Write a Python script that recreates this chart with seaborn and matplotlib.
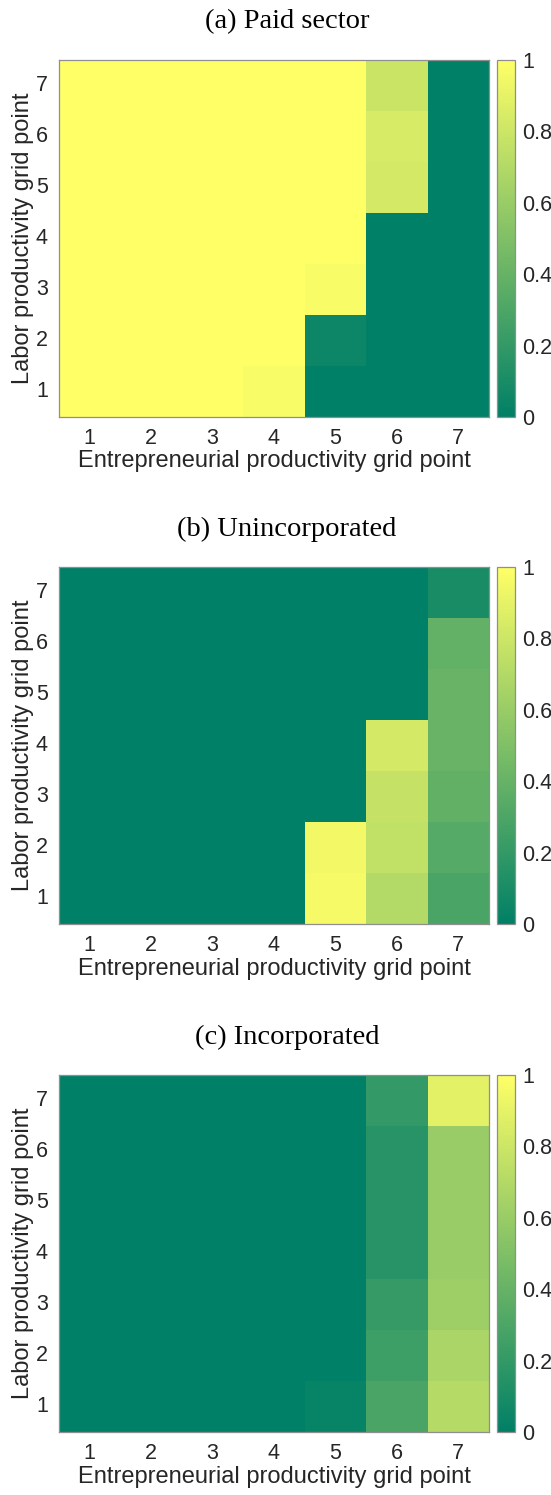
import numpy as np
import matplotlib
matplotlib.use("Agg")
import matplotlib.pyplot as plt
import seaborn as sns

# Grid points on both axes
ent_grid = [1, 2, 3, 4, 5, 6, 7]
lab_grid = [1, 2, 3, 4, 5, 6, 7]

# Sector shares; each list is one labor-productivity row (row 1 first),
# entries run over entrepreneurial productivity grid points 1..7.
paid_sector = [
    [1.00, 1.00, 1.00, 0.97, 0.00, 0.00, 0.00],
    [1.00, 1.00, 1.00, 1.00, 0.05, 0.00, 0.00],
    [1.00, 1.00, 1.00, 1.00, 0.97, 0.00, 0.00],
    [1.00, 1.00, 1.00, 1.00, 1.00, 0.00, 0.00],
    [1.00, 1.00, 1.00, 1.00, 1.00, 0.83, 0.00],
    [1.00, 1.00, 1.00, 1.00, 1.00, 0.84, 0.00],
    [1.00, 1.00, 1.00, 1.00, 1.00, 0.79, 0.00],
]
unincorporated = [
    [0.00, 0.00, 0.00, 0.00, 0.96, 0.70, 0.29],
    [0.00, 0.00, 0.00, 0.00, 0.95, 0.75, 0.33],
    [0.00, 0.00, 0.00, 0.00, 0.00, 0.77, 0.38],
    [0.00, 0.00, 0.00, 0.00, 0.00, 0.83, 0.41],
    [0.00, 0.00, 0.00, 0.00, 0.00, 0.00, 0.41],
    [0.00, 0.00, 0.00, 0.00, 0.00, 0.00, 0.39],
    [0.00, 0.00, 0.00, 0.00, 0.00, 0.00, 0.10],
]
incorporated = [
    [0.00, 0.00, 0.00, 0.00, 0.03, 0.29, 0.71],
    [0.00, 0.00, 0.00, 0.00, 0.00, 0.24, 0.67],
    [0.00, 0.00, 0.00, 0.00, 0.00, 0.21, 0.62],
    [0.00, 0.00, 0.00, 0.00, 0.00, 0.16, 0.60],
    [0.00, 0.00, 0.00, 0.00, 0.00, 0.16, 0.60],
    [0.00, 0.00, 0.00, 0.00, 0.00, 0.16, 0.60],
    [0.00, 0.00, 0.00, 0.00, 0.00, 0.20, 0.89],
]

titles = ["(a) Paid sector", "(b) Unincorporated", "(c) Incorporated"]
panels = [paid_sector, unincorporated, incorporated]
cbar_ticks = [0, 0.2, 0.4, 0.6, 0.8, 1]
cbar_labels = ["0", "0.2", "0.4", "0.6", "0.8", "1"]

sns.set_theme(style="white")
plt.rcParams["font.family"] = ["Liberation Sans", "DejaVu Sans"]

W, H = 551, 1495
fig = plt.figure(figsize=(W / 100, H / 100), dpi=100)

text_col = "#262626"
edge_col = "#8f8f8f"
tick_fs = 15.5
label_fs = 17

ax_left, ax_right = 59, 489
cb_left, cb_right = 497, 515
ax_tops = [60, 567, 1075]
ax_h = 357

for title, data, top in zip(titles, panels, ax_tops):
    ax = fig.add_axes([ax_left / W, (H - top - ax_h) / H,
                       (ax_right - ax_left) / W, ax_h / H])
    cax = fig.add_axes([cb_left / W, (H - top - ax_h) / H,
                        (cb_right - cb_left) / W, ax_h / H])
    sns.heatmap(np.array(data), ax=ax, cbar_ax=cax, cmap="summer",
                vmin=0, vmax=1, xticklabels=ent_grid, yticklabels=lab_grid,
                linewidths=0, square=False)
    ax.invert_yaxis()

    for s in ax.spines.values():
        s.set_visible(True)
        s.set_color(edge_col)
        s.set_linewidth(0.9)
    ax.set_yticklabels([str(v) for v in lab_grid], rotation=0,
                       fontsize=tick_fs, color=text_col)
    ax.set_xticklabels([str(v) for v in ent_grid], rotation=0,
                       fontsize=tick_fs, color=text_col)
    ax.tick_params(axis="both", which="both", direction="in", length=4,
                   width=0.7, color="#404040", top=True, right=True,
                   bottom=True, left=True)
    ax.tick_params(axis="x", pad=8)
    ax.tick_params(axis="y", pad=8)
    ax.set_xlabel("Entrepreneurial productivity grid point", fontsize=label_fs,
                  color=text_col, labelpad=1)
    ax.set_ylabel("Labor productivity grid point", fontsize=label_fs,
                  color=text_col, labelpad=1)

    cb = ax.collections[0].colorbar
    cb.set_ticks(cbar_ticks)
    cb.set_ticklabels(cbar_labels, fontsize=tick_fs, color=text_col)
    cb.outline.set_visible(True)
    cb.outline.set_edgecolor(edge_col)
    cb.outline.set_linewidth(0.9)
    cax.tick_params(direction="in", length=0, pad=5)

    fig.text((ax_left + cb_right) / 2 / W, 1 - (top - 38) / H, title,
             ha="center", va="center", fontsize=20.5,
             family=["Liberation Serif", "DejaVu Serif"], color="black")

fig.savefig("out.png", dpi=100)
